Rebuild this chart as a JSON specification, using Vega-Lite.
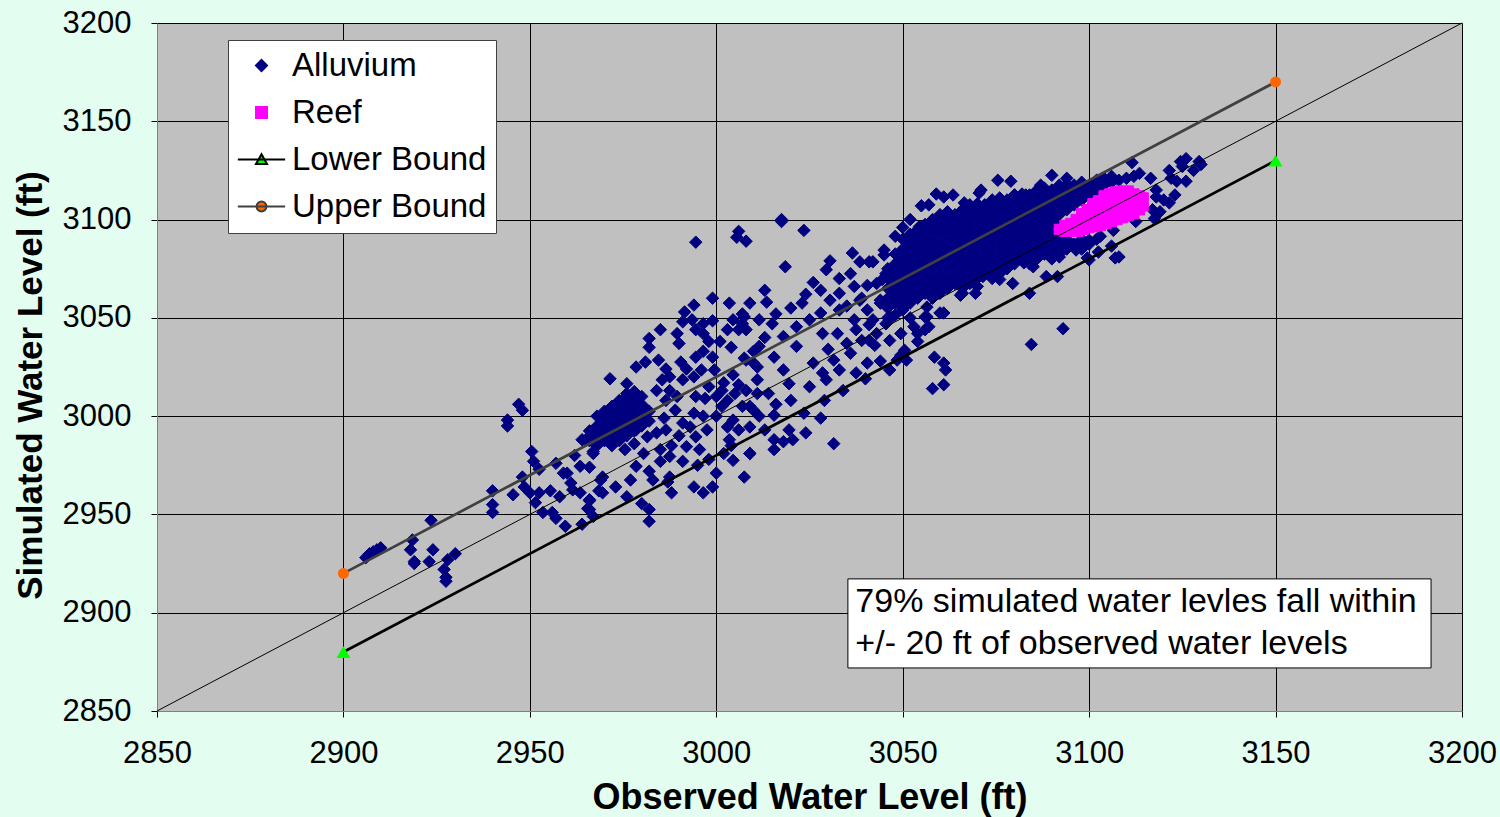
{
  "$schema": "https://vega.github.io/schema/vega-lite/v6.json",
  "width": 1305,
  "height": 688,
  "autosize": {"type": "none"},
  "padding": {"left": 157, "top": 23, "right": 38, "bottom": 106},
  "background": "#E3FDF0",
  "config": {
    "font": "Liberation Sans",
    "view": {"fill": "#C0C0C0", "stroke": "#808080", "strokeWidth": 1}
  },
  "datasets": {
    "alluvium": [
      {"x":2907,"y":2930,"s":"A"},{"x":2908,"y":2931,"s":"A"},{"x":2906,"y":2928,"s":"A"},{"x":2909,"y":2932,"s":"A"},{"x":2910,"y":2933,"s":"A"},
      {"x":2918.5,"y":2937,"s":"A"},{"x":2918,"y":2932,"s":"A"},{"x":2919,"y":2926,"s":"A"},{"x":2919,"y":2925,"s":"A"},{"x":2923,"y":2926,"s":"A"},{"x":2924,"y":2932,"s":"A"},{"x":2923.5,"y":2947,"s":"A"},{"x":2928,"y":2927,"s":"A"},{"x":2930,"y":2930,"s":"A"},{"x":2927,"y":2922,"s":"A"},{"x":2927.5,"y":2918,"s":"A"},{"x":2927.5,"y":2916,"s":"A"},
      {"x":2940,"y":2962,"s":"A"},{"x":2940,"y":2955,"s":"A"},{"x":2940,"y":2951,"s":"A"},
      {"x":2947,"y":3006,"s":"A"},{"x":2948,"y":3003,"s":"A"},{"x":2944,"y":2998,"s":"A"},{"x":2944,"y":2995,"s":"A"},
      {"x":2950.5,"y":2982,"s":"A"},{"x":2951,"y":2977,"s":"A"},{"x":2952.5,"y":2973,"s":"A"},{"x":2948,"y":2969,"s":"A"},{"x":2948.5,"y":2964,"s":"A"},{"x":2945.5,"y":2960,"s":"A"},{"x":2950,"y":2961,"s":"A"},{"x":2951.5,"y":2956,"s":"A"},{"x":2952.5,"y":2961,"s":"A"},{"x":2953.5,"y":2951,"s":"A"},{"x":2956,"y":2951,"s":"A"},{"x":2957,"y":2948,"s":"A"},{"x":2959.5,"y":2944,"s":"A"},{"x":2964,"y":2945,"s":"A"},
      {"x":2957,"y":2976,"s":"A"},{"x":2959,"y":2971,"s":"A"},{"x":2962,"y":2980,"s":"A"},{"x":2964,"y":2988,"s":"A"},{"x":2967,"y":2982,"s":"A"},{"x":2966,"y":2974,"s":"A"},{"x":2961,"y":2966,"s":"A"},{"x":2955.5,"y":2962,"s":"A"},{"x":2958,"y":2959,"s":"A"},{"x":2963.5,"y":2961,"s":"A"},{"x":2966,"y":2957,"s":"A"},{"x":2965.5,"y":2953,"s":"A"},{"x":2967,"y":2949,"s":"A"},{"x":2968.5,"y":2962,"s":"A"},{"x":2969.5,"y":2969,"s":"A"},
      {"x":2966,"y":2987.5,"s":"A"},{"x":2966,"y":2992.5,"s":"A"},
      {"x":2968,"y":2985,"s":"A"},{"x":2968,"y":2990,"s":"A"},{"x":2968,"y":2995,"s":"A"},{"x":2968,"y":3000,"s":"A"},
      {"x":2970,"y":2987.5,"s":"A"},{"x":2970,"y":2992.5,"s":"A"},{"x":2970,"y":2997.5,"s":"A"},{"x":2970,"y":3002.5,"s":"A"},
      {"x":2972,"y":2985,"s":"A"},{"x":2972,"y":2990,"s":"A"},{"x":2972,"y":2995,"s":"A"},{"x":2972,"y":3000,"s":"A"},{"x":2972,"y":3005,"s":"A"},
      {"x":2974,"y":2987.5,"s":"A"},{"x":2974,"y":2992.5,"s":"A"},{"x":2974,"y":2997.5,"s":"A"},{"x":2974,"y":3002.5,"s":"A"},{"x":2974,"y":3007.5,"s":"A"},
      {"x":2976,"y":2990,"s":"A"},{"x":2976,"y":2995,"s":"A"},{"x":2976,"y":3000,"s":"A"},{"x":2976,"y":3005,"s":"A"},{"x":2976,"y":3010,"s":"A"},
      {"x":2978,"y":2992.5,"s":"A"},{"x":2978,"y":2997.5,"s":"A"},{"x":2978,"y":3002.5,"s":"A"},{"x":2978,"y":3007.5,"s":"A"},{"x":2978,"y":3012.5,"s":"A"},
      {"x":2980,"y":2995,"s":"A"},{"x":2980,"y":3000,"s":"A"},{"x":2980,"y":3005,"s":"A"},{"x":2980,"y":3010,"s":"A"},
      {"x":2982,"y":2997.5,"s":"A"},{"x":2982,"y":3002.5,"s":"A"},
      {"x":2999,"y":3060,"s":"A"},{"x":2994,"y":3056.5,"s":"A"},{"x":3003.5,"y":3057.5,"s":"A"},{"x":3009,"y":3057.5,"s":"A"},{"x":2991.5,"y":3053,"s":"A"},{"x":2991,"y":3048,"s":"A"},{"x":2993.5,"y":3049,"s":"A"},{"x":2996.5,"y":3047,"s":"A"},{"x":2999,"y":3048.5,"s":"A"},{"x":3003,"y":3044,"s":"A"},{"x":3004.5,"y":3049,"s":"A"},{"x":3007,"y":3052,"s":"A"},{"x":3007,"y":3047,"s":"A"},{"x":3006,"y":3044,"s":"A"},
      {"x":2985,"y":3044,"s":"A"},{"x":2982,"y":3039.5,"s":"A"},{"x":2982,"y":3035,"s":"A"},{"x":2989.5,"y":3042,"s":"A"},{"x":2990,"y":3037,"s":"A"},{"x":2994.5,"y":3044,"s":"A"},{"x":2996.5,"y":3042,"s":"A"},{"x":2998,"y":3038,"s":"A"},
      {"x":2971.5,"y":3019,"s":"A"},{"x":2976,"y":3016.5,"s":"A"},{"x":2978.5,"y":3025,"s":"A"},{"x":2981,"y":3027.5,"s":"A"},{"x":2984.5,"y":3028.5,"s":"A"},{"x":2986.5,"y":3024,"s":"A"},{"x":2990.5,"y":3027.5,"s":"A"},{"x":2992,"y":3024,"s":"A"},{"x":2994.5,"y":3030,"s":"A"},{"x":2996.5,"y":3033,"s":"A"},{"x":2999,"y":3030,"s":"A"},{"x":2999.5,"y":3023.5,"s":"A"},{"x":2996,"y":3023.5,"s":"A"},{"x":2994,"y":3020,"s":"A"},{"x":2991,"y":3018.5,"s":"A"},{"x":2987.5,"y":3020,"s":"A"},{"x":2985.5,"y":3018.5,"s":"A"},{"x":2987.5,"y":3013,"s":"A"},{"x":2984,"y":3013,"s":"A"},{"x":2989.5,"y":3010,"s":"A"},{"x":2986.5,"y":3008,"s":"A"},{"x":2994.5,"y":3010,"s":"A"},{"x":2997,"y":3009,"s":"A"},{"x":3000,"y":3010,"s":"A"},{"x":3001.5,"y":3013,"s":"A"},{"x":3003,"y":3008,"s":"A"},{"x":3005,"y":3011.5,"s":"A"},{"x":3004.5,"y":3021,"s":"A"},{"x":3007.5,"y":3029.5,"s":"A"},{"x":3010,"y":3027,"s":"A"},{"x":3010,"y":3033,"s":"A"},{"x":3011,"y":3018.5,"s":"A"},{"x":3008,"y":3013,"s":"A"},
      {"x":2972.5,"y":3005,"s":"A"},{"x":2974,"y":3008,"s":"A"},{"x":2976,"y":3011.5,"s":"A"},{"x":2978.5,"y":3010,"s":"A"},{"x":2980.5,"y":3005,"s":"A"},{"x":2981.5,"y":2998,"s":"A"},{"x":2976,"y":2996.5,"s":"A"},{"x":2978.5,"y":2993,"s":"A"},{"x":2971.5,"y":2998,"s":"A"},{"x":2969,"y":2994.5,"s":"A"},{"x":2967,"y":2991,"s":"A"},{"x":2965,"y":2988,"s":"A"},{"x":2974,"y":2989.5,"s":"A"},{"x":2978,"y":2986,"s":"A"},{"x":2975.5,"y":2983,"s":"A"},{"x":2981.5,"y":2989.5,"s":"A"},{"x":2984,"y":2991.5,"s":"A"},{"x":2986.5,"y":2993,"s":"A"},{"x":2985,"y":2983,"s":"A"},{"x":2980.5,"y":2981,"s":"A"},{"x":2987.5,"y":2979.5,"s":"A"},{"x":2985,"y":2977,"s":"A"},{"x":2991,"y":2977,"s":"A"},{"x":2978.5,"y":2974.5,"s":"A"},{"x":2982,"y":2972,"s":"A"},{"x":2987.5,"y":2969,"s":"A"},{"x":2983,"y":2967.5,"s":"A"},{"x":2977,"y":2967.5,"s":"A"},{"x":2973,"y":2964,"s":"A"},{"x":2969,"y":2967.5,"s":"A"},{"x":2967,"y":2981,"s":"A"},{"x":2963.5,"y":2974.5,"s":"A"},{"x":2960,"y":2971,"s":"A"},{"x":2961.5,"y":2962.5,"s":"A"},{"x":2966,"y":2957.5,"s":"A"},{"x":2966,"y":2952.5,"s":"A"},{"x":2969.5,"y":2961,"s":"A"},{"x":2976,"y":2959,"s":"A"},{"x":2980,"y":2955.5,"s":"A"},{"x":2982,"y":2952.5,"s":"A"},{"x":2982,"y":2946.5,"s":"A"},{"x":2987,"y":2966.5,"s":"A"},{"x":2988,"y":2961,"s":"A"},{"x":2994,"y":2964,"s":"A"},{"x":2996.5,"y":2961,"s":"A"},{"x":2999,"y":2964,"s":"A"},{"x":3000,"y":2971,"s":"A"},{"x":2995,"y":2975,"s":"A"},{"x":2995.5,"y":2983,"s":"A"},{"x":2992,"y":2984.5,"s":"A"},{"x":2994.5,"y":2989.5,"s":"A"},{"x":2997.5,"y":2993,"s":"A"},{"x":2993,"y":2994.5,"s":"A"},{"x":2991,"y":2996.5,"s":"A"},{"x":2994,"y":3001.5,"s":"A"},{"x":2996.5,"y":3000,"s":"A"},{"x":3000,"y":3000,"s":"A"},{"x":3003,"y":2994.5,"s":"A"},{"x":3004.5,"y":2998,"s":"A"},{"x":3006,"y":2993,"s":"A"},{"x":3009,"y":2994.5,"s":"A"},{"x":3003.5,"y":2988,"s":"A"},{"x":3002,"y":2981,"s":"A"},{"x":3004.5,"y":2977.5,"s":"A"},{"x":3009,"y":2981,"s":"A"},{"x":3007.5,"y":2969,"s":"A"},{"x":3001.5,"y":3005,"s":"A"},{"x":3007,"y":3005,"s":"A"},{"x":3010,"y":3003,"s":"A"},
      {"x":3017.5,"y":3099,"s":"A"},{"x":3023.5,"y":3094.5,"s":"A"},{"x":3008,"y":3089,"s":"A"},{"x":3018.5,"y":3076,"s":"A"},{"x":3029.5,"y":3074.5,"s":"A"},{"x":3030.5,"y":3079,"s":"A"},{"x":3036.5,"y":3083,"s":"A"},{"x":3048,"y":3091.5,"s":"A"},{"x":3038.5,"y":3078.5,"s":"A"},{"x":3041,"y":3078.5,"s":"A"},{"x":3045,"y":3082,"s":"A"},{"x":3045.5,"y":3072.5,"s":"A"},{"x":3043,"y":3067.5,"s":"A"},{"x":3036,"y":3072.5,"s":"A"},{"x":3037,"y":3066,"s":"A"},{"x":3033,"y":3062.5,"s":"A"},{"x":3028,"y":3064,"s":"A"},{"x":3030.5,"y":3059,"s":"A"},{"x":3013,"y":3064,"s":"A"},{"x":3013.5,"y":3058,"s":"A"},{"x":3020,"y":3055,"s":"A"},{"x":3023,"y":3057.5,"s":"A"},{"x":3028,"y":3052.5,"s":"A"},{"x":3033,"y":3054,"s":"A"},{"x":3037,"y":3049,"s":"A"},{"x":3040.5,"y":3054,"s":"A"},{"x":3044,"y":3057.5,"s":"A"},{"x":3047.5,"y":3061,"s":"A"},{"x":3049.5,"y":3066,"s":"A"},{"x":3051,"y":3071,"s":"A"},{"x":3056.5,"y":3050.5,"s":"A"},{"x":3053,"y":3045.5,"s":"A"},{"x":3049.5,"y":3042,"s":"A"},{"x":3045.5,"y":3047,"s":"A"},{"x":3042,"y":3049,"s":"A"},{"x":3041,"y":3038.5,"s":"A"},{"x":3037.5,"y":3044,"s":"A"},{"x":3035,"y":3037,"s":"A"},{"x":3032.5,"y":3042,"s":"A"},{"x":3028.5,"y":3042,"s":"A"},{"x":3025,"y":3049,"s":"A"},{"x":3021.5,"y":3045.5,"s":"A"},{"x":3018,"y":3040.5,"s":"A"},{"x":3015,"y":3047,"s":"A"},{"x":3011.5,"y":3049,"s":"A"},{"x":3007.5,"y":3050.5,"s":"A"},{"x":3008,"y":3044,"s":"A"},{"x":3011.5,"y":3035.5,"s":"A"},{"x":3008,"y":3028.5,"s":"A"},{"x":3011,"y":3025,"s":"A"},{"x":3015.5,"y":3030,"s":"A"},{"x":3021.5,"y":3035.5,"s":"A"},{"x":3018,"y":3023.5,"s":"A"},{"x":3019.5,"y":3016.5,"s":"A"},{"x":3026,"y":3027,"s":"A"},{"x":3028.5,"y":3022,"s":"A"},{"x":3031.5,"y":3028.5,"s":"A"},{"x":3033,"y":3023.5,"s":"A"},{"x":3029.5,"y":3018.5,"s":"A"},{"x":3037.5,"y":3022,"s":"A"},{"x":3040.5,"y":3027,"s":"A"},{"x":3036,"y":3032,"s":"A"},{"x":3046.5,"y":3023.5,"s":"A"},{"x":3048.5,"y":3028.5,"s":"A"},{"x":3050.5,"y":3033.5,"s":"A"},{"x":3058,"y":3014,"s":"A"},{"x":3014,"y":3011.5,"s":"A"},{"x":3011,"y":3011.5,"s":"A"},{"x":3009,"y":3005,"s":"A"},{"x":3011.5,"y":3000,"s":"A"},{"x":3015.5,"y":3000.5,"s":"A"},{"x":3020,"y":3008,"s":"A"},{"x":3023.5,"y":3001.5,"s":"A"},{"x":3028,"y":2999,"s":"A"},{"x":3029,"y":3008,"s":"A"},{"x":3019.5,"y":2993,"s":"A"},{"x":3024,"y":2991.5,"s":"A"},{"x":3020.5,"y":2988,"s":"A"},{"x":3015.5,"y":2988,"s":"A"},{"x":3018,"y":2987,"s":"A"},{"x":3015.5,"y":2983,"s":"A"},{"x":3009,"y":2981,"s":"A"},{"x":3031.5,"y":2986,"s":"A"},
      {"x":2994.5,"y":3088.5,"s":"A"},{"x":3006,"y":3094,"s":"A"},{"x":3005.5,"y":3091,"s":"A"},{"x":3017.5,"y":3100,"s":"A"},
      {"x":3001,"y":3038,"s":"A"},{"x":3004,"y":3035,"s":"A"},{"x":3013,"y":3040,"s":"A"},{"x":3016,"y":3052,"s":"A"},{"x":3024,"y":3062,"s":"A"},{"x":3026,"y":3068,"s":"A"},{"x":3033,"y":3070,"s":"A"},{"x":3039,"y":3060,"s":"A"},{"x":3035,"y":3056,"s":"A"},{"x":3002,"y":3017,"s":"A"},{"x":3006,"y":3016,"s":"A"},{"x":2998,"y":3015,"s":"A"},{"x":2989,"y":3003,"s":"A"},{"x":2986,"y":2999,"s":"A"},{"x":2990,"y":2990,"s":"A"},{"x":2988,"y":2985,"s":"A"},{"x":2998,"y":2978,"s":"A"},{"x":3004,"y":2985,"s":"A"},{"x":3013,"y":2993,"s":"A"},{"x":3016,"y":3006,"s":"A"},{"x":3025,"y":3015,"s":"A"},{"x":3030,"y":3034,"s":"A"},{"x":3043,"y":3042,"s":"A"},{"x":3047,"y":3050,"s":"A"},{"x":3052,"y":3050,"s":"A"},{"x":3054,"y":3038,"s":"A"},{"x":3044,"y":3028,"s":"A"},{"x":3040,"y":3019,"s":"A"},{"x":3034,"y":3013,"s":"A"},
      {"x":3090,"y":3122.5,"s":"A"},{"x":3094,"y":3121,"s":"A"},{"x":3075.5,"y":3120,"s":"A"},{"x":3079,"y":3119.5,"s":"A"},{"x":3071,"y":3115,"s":"A"},{"x":3070.5,"y":3113.5,"s":"A"},{"x":3080,"y":3112.5,"s":"A"},{"x":3083,"y":3112.5,"s":"A"},{"x":3087,"y":3117.5,"s":"A"},{"x":3061,"y":3111.5,"s":"A"},{"x":3063.5,"y":3112.5,"s":"A"},{"x":3066.5,"y":3108.5,"s":"A"},{"x":3057,"y":3107.5,"s":"A"},{"x":3052,"y":3100,"s":"A"},{"x":3054.5,"y":3096.5,"s":"A"},{"x":3059,"y":3100,"s":"A"},{"x":3062.5,"y":3103,"s":"A"},{"x":3053,"y":3086,"s":"A"},{"x":3051,"y":3079.5,"s":"A"},{"x":3050,"y":3069.5,"s":"A"},{"x":3051,"y":3061,"s":"A"},{"x":3050,"y":3054,"s":"A"},{"x":3056,"y":3050.5,"s":"A"},{"x":3061,"y":3052.5,"s":"A"},{"x":3057,"y":3045.5,"s":"A"},{"x":3054,"y":3042,"s":"A"},{"x":3051,"y":3028.5,"s":"A"},{"x":3061,"y":3027,"s":"A"},{"x":3061.5,"y":3023.5,"s":"A"},{"x":3061,"y":3016,"s":"A"},{"x":3084.5,"y":3036.5,"s":"A"},{"x":3093,"y":3044.5,"s":"A"},{"x":3066,"y":3062.5,"s":"A"},{"x":3069.5,"y":3062.5,"s":"A"},{"x":3065.5,"y":3067.5,"s":"A"},{"x":3071.5,"y":3071,"s":"A"},{"x":3076,"y":3069.5,"s":"A"},{"x":3079.5,"y":3067.5,"s":"A"},{"x":3084,"y":3062.5,"s":"A"},{"x":3085,"y":3076,"s":"A"},{"x":3082.5,"y":3078,"s":"A"},{"x":3088.5,"y":3071,"s":"A"},{"x":3091.5,"y":3071,"s":"A"},{"x":3100,"y":3079.5,"s":"A"},{"x":3096.5,"y":3084.5,"s":"A"},{"x":3092,"y":3081,"s":"A"},{"x":3058,"y":3061,"s":"A"},{"x":3060,"y":3052.5,"s":"A"},{"x":3056.5,"y":3055.5,"s":"A"},{"x":3065.5,"y":3061.5,"s":"A"},{"x":3070,"y":3066,"s":"A"},
      {"x":3111.5,"y":3129,"s":"A"},{"x":3113.5,"y":3123.5,"s":"A"},{"x":3116.5,"y":3121,"s":"A"},{"x":3118,"y":3115,"s":"A"},{"x":3118,"y":3111.5,"s":"A"},{"x":3121.5,"y":3125,"s":"A"},{"x":3122,"y":3121,"s":"A"},{"x":3124.5,"y":3129.5,"s":"A"},{"x":3125,"y":3127,"s":"A"},{"x":3126,"y":3119.5,"s":"A"},{"x":3123.5,"y":3119.5,"s":"A"},{"x":3129.5,"y":3129.5,"s":"A"},{"x":3121.5,"y":3108.5,"s":"A"},{"x":3119,"y":3104,"s":"A"},{"x":3117.5,"y":3100.5,"s":"A"},{"x":3112.5,"y":3099,"s":"A"},{"x":3106.5,"y":3094.5,"s":"A"},{"x":3106,"y":3086.5,"s":"A"},{"x":3108,"y":3081,"s":"A"},{"x":3102.5,"y":3083.5,"s":"A"},{"x":3099.5,"y":3080.5,"s":"A"},{"x":3100,"y":3089.5,"s":"A"},{"x":3103,"y":3091.5,"s":"A"},
      {"x":3042,"y":3078.5,"s":"A"},{"x":3045,"y":3084.5,"s":"A"},{"x":3046.5,"y":3074.5,"s":"A"},{"x":3049,"y":3064,"s":"A"},{"x":3044,"y":3059,"s":"A"},{"x":3048,"y":3051.5,"s":"A"},{"x":3041,"y":3046.5,"s":"A"},{"x":3039,"y":3038.5,"s":"A"},{"x":3042.5,"y":3036,"s":"A"},{"x":3046.5,"y":3038.5,"s":"A"},{"x":3049.5,"y":3031,"s":"A"},{"x":3044.5,"y":3069.5,"s":"A"},{"x":3038.5,"y":3059,"s":"A"},{"x":3040.5,"y":3066.5,"s":"A"},{"x":3056,"y":3044,"s":"A"},{"x":3058.5,"y":3030,"s":"A"},{"x":3055,"y":3107,"s":"A"},{"x":3059,"y":3113,"s":"A"},{"x":3050,"y":3096,"s":"A"},
      {"x":3126,"y":3131,"s":"A"},{"x":3130,"y":3128,"s":"A"},{"x":3128,"y":3125,"s":"A"},{"x":3117,"y":3105,"s":"A"},{"x":3123,"y":3112.5,"s":"A"},{"x":3120,"y":3110,"s":"A"},{"x":3107,"y":3080.5,"s":"A"},
      {"x":3046,"y":3050,"s":"A"},{"x":3046,"y":3055,"s":"A"},{"x":3046,"y":3060,"s":"A"},{"x":3046,"y":3065,"s":"A"},{"x":3046,"y":3070,"s":"A"},{"x":3046,"y":3075,"s":"A"},
      {"x":3048,"y":3057.5,"s":"A"},{"x":3048,"y":3062.5,"s":"A"},{"x":3048,"y":3067.5,"s":"A"},{"x":3048,"y":3072.5,"s":"A"},{"x":3048,"y":3077.5,"s":"A"},{"x":3048,"y":3082.5,"s":"A"},
      {"x":3050,"y":3055,"s":"A"},{"x":3050,"y":3060,"s":"A"},{"x":3050,"y":3065,"s":"A"},{"x":3050,"y":3070,"s":"A"},{"x":3050,"y":3075,"s":"A"},{"x":3050,"y":3080,"s":"A"},{"x":3050,"y":3085,"s":"A"},{"x":3050,"y":3090,"s":"A"},
      {"x":3052,"y":3057.5,"s":"A"},{"x":3052,"y":3062.5,"s":"A"},{"x":3052,"y":3067.5,"s":"A"},{"x":3052,"y":3072.5,"s":"A"},{"x":3052,"y":3077.5,"s":"A"},{"x":3052,"y":3082.5,"s":"A"},{"x":3052,"y":3087.5,"s":"A"},{"x":3052,"y":3092.5,"s":"A"},
      {"x":3054,"y":3060,"s":"A"},{"x":3054,"y":3065,"s":"A"},{"x":3054,"y":3070,"s":"A"},{"x":3054,"y":3075,"s":"A"},{"x":3054,"y":3080,"s":"A"},{"x":3054,"y":3085,"s":"A"},{"x":3054,"y":3090,"s":"A"},{"x":3054,"y":3095,"s":"A"},
      {"x":3056,"y":3062.5,"s":"A"},{"x":3056,"y":3067.5,"s":"A"},{"x":3056,"y":3072.5,"s":"A"},{"x":3056,"y":3077.5,"s":"A"},{"x":3056,"y":3082.5,"s":"A"},{"x":3056,"y":3087.5,"s":"A"},{"x":3056,"y":3092.5,"s":"A"},{"x":3056,"y":3097.5,"s":"A"},
      {"x":3058,"y":3060,"s":"A"},{"x":3058,"y":3065,"s":"A"},{"x":3058,"y":3070,"s":"A"},{"x":3058,"y":3075,"s":"A"},{"x":3058,"y":3080,"s":"A"},{"x":3058,"y":3085,"s":"A"},{"x":3058,"y":3090,"s":"A"},{"x":3058,"y":3095,"s":"A"},{"x":3058,"y":3100,"s":"A"},
      {"x":3060,"y":3062.5,"s":"A"},{"x":3060,"y":3067.5,"s":"A"},{"x":3060,"y":3072.5,"s":"A"},{"x":3060,"y":3077.5,"s":"A"},{"x":3060,"y":3082.5,"s":"A"},{"x":3060,"y":3087.5,"s":"A"},{"x":3060,"y":3092.5,"s":"A"},{"x":3060,"y":3097.5,"s":"A"},{"x":3060,"y":3102.5,"s":"A"},
      {"x":3062,"y":3065,"s":"A"},{"x":3062,"y":3070,"s":"A"},{"x":3062,"y":3075,"s":"A"},{"x":3062,"y":3080,"s":"A"},{"x":3062,"y":3085,"s":"A"},{"x":3062,"y":3090,"s":"A"},{"x":3062,"y":3095,"s":"A"},{"x":3062,"y":3100,"s":"A"},{"x":3062,"y":3104,"s":"A"},
      {"x":3064,"y":3067.5,"s":"A"},{"x":3064,"y":3072.5,"s":"A"},{"x":3064,"y":3077.5,"s":"A"},{"x":3064,"y":3082.5,"s":"A"},{"x":3064,"y":3087.5,"s":"A"},{"x":3064,"y":3092.5,"s":"A"},{"x":3064,"y":3097.5,"s":"A"},{"x":3064,"y":3102.5,"s":"A"},
      {"x":3066,"y":3065,"s":"A"},{"x":3066,"y":3070,"s":"A"},{"x":3066,"y":3075,"s":"A"},{"x":3066,"y":3080,"s":"A"},{"x":3066,"y":3085,"s":"A"},{"x":3066,"y":3090,"s":"A"},{"x":3066,"y":3095,"s":"A"},{"x":3066,"y":3100,"s":"A"},{"x":3066,"y":3105,"s":"A"},
      {"x":3068,"y":3067.5,"s":"A"},{"x":3068,"y":3072.5,"s":"A"},{"x":3068,"y":3077.5,"s":"A"},{"x":3068,"y":3082.5,"s":"A"},{"x":3068,"y":3087.5,"s":"A"},{"x":3068,"y":3092.5,"s":"A"},{"x":3068,"y":3097.5,"s":"A"},{"x":3068,"y":3102.5,"s":"A"},{"x":3068,"y":3107.5,"s":"A"},
      {"x":3070,"y":3070,"s":"A"},{"x":3070,"y":3075,"s":"A"},{"x":3070,"y":3080,"s":"A"},{"x":3070,"y":3085,"s":"A"},{"x":3070,"y":3090,"s":"A"},{"x":3070,"y":3095,"s":"A"},{"x":3070,"y":3100,"s":"A"},{"x":3070,"y":3105,"s":"A"},{"x":3070,"y":3108,"s":"A"},
      {"x":3072,"y":3072.5,"s":"A"},{"x":3072,"y":3077.5,"s":"A"},{"x":3072,"y":3082.5,"s":"A"},{"x":3072,"y":3087.5,"s":"A"},{"x":3072,"y":3092.5,"s":"A"},{"x":3072,"y":3097.5,"s":"A"},{"x":3072,"y":3102.5,"s":"A"},{"x":3072,"y":3107.5,"s":"A"},
      {"x":3074,"y":3070,"s":"A"},{"x":3074,"y":3075,"s":"A"},{"x":3074,"y":3080,"s":"A"},{"x":3074,"y":3085,"s":"A"},{"x":3074,"y":3090,"s":"A"},{"x":3074,"y":3095,"s":"A"},{"x":3074,"y":3100,"s":"A"},{"x":3074,"y":3105,"s":"A"},{"x":3074,"y":3110,"s":"A"},
      {"x":3076,"y":3072.5,"s":"A"},{"x":3076,"y":3077.5,"s":"A"},{"x":3076,"y":3082.5,"s":"A"},{"x":3076,"y":3087.5,"s":"A"},{"x":3076,"y":3092.5,"s":"A"},{"x":3076,"y":3097.5,"s":"A"},{"x":3076,"y":3102.5,"s":"A"},{"x":3076,"y":3107.5,"s":"A"},{"x":3076,"y":3111,"s":"A"},
      {"x":3078,"y":3075,"s":"A"},{"x":3078,"y":3080,"s":"A"},{"x":3078,"y":3085,"s":"A"},{"x":3078,"y":3090,"s":"A"},{"x":3078,"y":3095,"s":"A"},{"x":3078,"y":3100,"s":"A"},{"x":3078,"y":3105,"s":"A"},{"x":3078,"y":3110,"s":"A"},
      {"x":3080,"y":3077.5,"s":"A"},{"x":3080,"y":3082.5,"s":"A"},{"x":3080,"y":3087.5,"s":"A"},{"x":3080,"y":3092.5,"s":"A"},{"x":3080,"y":3097.5,"s":"A"},{"x":3080,"y":3102.5,"s":"A"},{"x":3080,"y":3107.5,"s":"A"},{"x":3080,"y":3112.5,"s":"A"},
      {"x":3082,"y":3080,"s":"A"},{"x":3082,"y":3085,"s":"A"},{"x":3082,"y":3090,"s":"A"},{"x":3082,"y":3095,"s":"A"},{"x":3082,"y":3100,"s":"A"},{"x":3082,"y":3105,"s":"A"},{"x":3082,"y":3110,"s":"A"},{"x":3082,"y":3113,"s":"A"},
      {"x":3084,"y":3077.5,"s":"A"},{"x":3084,"y":3082.5,"s":"A"},{"x":3084,"y":3087.5,"s":"A"},{"x":3084,"y":3092.5,"s":"A"},{"x":3084,"y":3097.5,"s":"A"},{"x":3084,"y":3102.5,"s":"A"},{"x":3084,"y":3107.5,"s":"A"},{"x":3084,"y":3112.5,"s":"A"},
      {"x":3086,"y":3080,"s":"A"},{"x":3086,"y":3085,"s":"A"},{"x":3086,"y":3090,"s":"A"},{"x":3086,"y":3095,"s":"A"},{"x":3086,"y":3100,"s":"A"},{"x":3086,"y":3105,"s":"A"},{"x":3086,"y":3110,"s":"A"},{"x":3086,"y":3115,"s":"A"},
      {"x":3088,"y":3082.5,"s":"A"},{"x":3088,"y":3087.5,"s":"A"},{"x":3088,"y":3092.5,"s":"A"},{"x":3088,"y":3097.5,"s":"A"},{"x":3088,"y":3102.5,"s":"A"},{"x":3088,"y":3107.5,"s":"A"},{"x":3088,"y":3112.5,"s":"A"},{"x":3088,"y":3116,"s":"A"},
      {"x":3090,"y":3080,"s":"A"},{"x":3090,"y":3085,"s":"A"},{"x":3090,"y":3090,"s":"A"},{"x":3090,"y":3095,"s":"A"},{"x":3090,"y":3100,"s":"A"},{"x":3090,"y":3105,"s":"A"},{"x":3090,"y":3110,"s":"A"},{"x":3090,"y":3115,"s":"A"},
      {"x":3092,"y":3082.5,"s":"A"},{"x":3092,"y":3087.5,"s":"A"},{"x":3092,"y":3092.5,"s":"A"},{"x":3092,"y":3097.5,"s":"A"},{"x":3092,"y":3102.5,"s":"A"},{"x":3092,"y":3107.5,"s":"A"},{"x":3092,"y":3112.5,"s":"A"},{"x":3092,"y":3117.5,"s":"A"},
      {"x":3094,"y":3085,"s":"A"},{"x":3094,"y":3090,"s":"A"},{"x":3094,"y":3105,"s":"A"},{"x":3094,"y":3110,"s":"A"},{"x":3094,"y":3115,"s":"A"},{"x":3094,"y":3118,"s":"A"},
      {"x":3096,"y":3087.5,"s":"A"},{"x":3096,"y":3107.5,"s":"A"},{"x":3096,"y":3112.5,"s":"A"},{"x":3096,"y":3117.5,"s":"A"},
      {"x":3098,"y":3085,"s":"A"},{"x":3098,"y":3090,"s":"A"},{"x":3098,"y":3110,"s":"A"},{"x":3098,"y":3115,"s":"A"},{"x":3098,"y":3119,"s":"A"},
      {"x":3100,"y":3087.5,"s":"A"},{"x":3100,"y":3112.5,"s":"A"},{"x":3100,"y":3117.5,"s":"A"},
      {"x":3102,"y":3090,"s":"A"},{"x":3102,"y":3115,"s":"A"},{"x":3102,"y":3120,"s":"A"},
      {"x":3104,"y":3117.5,"s":"A"},{"x":3104,"y":3121,"s":"A"},
      {"x":3106,"y":3119,"s":"A"},{"x":3106,"y":3122,"s":"A"},
      {"x":3108,"y":3120,"s":"A"},{"x":3110,"y":3121,"s":"A"},{"x":3112,"y":3122,"s":"A"}
    ],
    "reef": [
      {"x":3091.5,"y":3094,"s":"R"},{"x":3091.5,"y":3096,"s":"R"},
      {"x":3093,"y":3093,"s":"R"},{"x":3093,"y":3096,"s":"R"},{"x":3093,"y":3098,"s":"R"},
      {"x":3094.5,"y":3093,"s":"R"},{"x":3094.5,"y":3096,"s":"R"},{"x":3094.5,"y":3099,"s":"R"},
      {"x":3096,"y":3093,"s":"R"},{"x":3096,"y":3096,"s":"R"},{"x":3096,"y":3099,"s":"R"},{"x":3096,"y":3101,"s":"R"},
      {"x":3097.5,"y":3093,"s":"R"},{"x":3097.5,"y":3096,"s":"R"},{"x":3097.5,"y":3099,"s":"R"},{"x":3097.5,"y":3102,"s":"R"},{"x":3097.5,"y":3104,"s":"R"},
      {"x":3099,"y":3094,"s":"R"},{"x":3099,"y":3097,"s":"R"},{"x":3099,"y":3100,"s":"R"},{"x":3099,"y":3103,"s":"R"},{"x":3099,"y":3106,"s":"R"},
      {"x":3100.5,"y":3095,"s":"R"},{"x":3100.5,"y":3098,"s":"R"},{"x":3100.5,"y":3101,"s":"R"},{"x":3100.5,"y":3104,"s":"R"},{"x":3100.5,"y":3107,"s":"R"},{"x":3100.5,"y":3109,"s":"R"},
      {"x":3102,"y":3095.5,"s":"R"},{"x":3102,"y":3098.5,"s":"R"},{"x":3102,"y":3101.5,"s":"R"},{"x":3102,"y":3104.5,"s":"R"},{"x":3102,"y":3107.5,"s":"R"},{"x":3102,"y":3110.5,"s":"R"},
      {"x":3103.5,"y":3096,"s":"R"},{"x":3103.5,"y":3099,"s":"R"},{"x":3103.5,"y":3102,"s":"R"},{"x":3103.5,"y":3105,"s":"R"},{"x":3103.5,"y":3108,"s":"R"},{"x":3103.5,"y":3111,"s":"R"},{"x":3103.5,"y":3113,"s":"R"},
      {"x":3105,"y":3097,"s":"R"},{"x":3105,"y":3100,"s":"R"},{"x":3105,"y":3103,"s":"R"},{"x":3105,"y":3106,"s":"R"},{"x":3105,"y":3109,"s":"R"},{"x":3105,"y":3112,"s":"R"},{"x":3105,"y":3114,"s":"R"},
      {"x":3106.5,"y":3098,"s":"R"},{"x":3106.5,"y":3101,"s":"R"},{"x":3106.5,"y":3104,"s":"R"},{"x":3106.5,"y":3107,"s":"R"},{"x":3106.5,"y":3110,"s":"R"},{"x":3106.5,"y":3113,"s":"R"},{"x":3106.5,"y":3115,"s":"R"},
      {"x":3108,"y":3099,"s":"R"},{"x":3108,"y":3102,"s":"R"},{"x":3108,"y":3105,"s":"R"},{"x":3108,"y":3108,"s":"R"},{"x":3108,"y":3111,"s":"R"},{"x":3108,"y":3114,"s":"R"},{"x":3108,"y":3115.5,"s":"R"},
      {"x":3109.5,"y":3100,"s":"R"},{"x":3109.5,"y":3103,"s":"R"},{"x":3109.5,"y":3106,"s":"R"},{"x":3109.5,"y":3109,"s":"R"},{"x":3109.5,"y":3112,"s":"R"},{"x":3109.5,"y":3115.5,"s":"R"},
      {"x":3111,"y":3101,"s":"R"},{"x":3111,"y":3104,"s":"R"},{"x":3111,"y":3107,"s":"R"},{"x":3111,"y":3110,"s":"R"},{"x":3111,"y":3113,"s":"R"},{"x":3111,"y":3115.5,"s":"R"},
      {"x":3112.5,"y":3102,"s":"R"},{"x":3112.5,"y":3105,"s":"R"},{"x":3112.5,"y":3108,"s":"R"},{"x":3112.5,"y":3111,"s":"R"},{"x":3112.5,"y":3114,"s":"R"},
      {"x":3114,"y":3104,"s":"R"},{"x":3114,"y":3107,"s":"R"},{"x":3114,"y":3110,"s":"R"},{"x":3114,"y":3113,"s":"R"},
      {"x":3115,"y":3106,"s":"R"},{"x":3115,"y":3109,"s":"R"},{"x":3115,"y":3112,"s":"R"}
    ],
    "bounds": [
      {"x":2900,"y":2880,"b":"L"},{"x":3150,"y":3130,"b":"L"},
      {"x":2900,"y":2920,"b":"U"},{"x":3150,"y":3170,"b":"U"}
    ],
    "diag": [{"x":2850,"y":2850},{"x":3200,"y":3200}],
    "box": [{"x1":3035.3,"x2":3191.7,"y1":2917.2,"y2":2871.9}],
    "note": [
      {"x":3037.3,"y":2905.4,"t":"79% simulated water levles fall within"},
      {"x":3037.3,"y":2884.1,"t":"+/- 20 ft of observed water levels"}
    ]
  },
  "layer": [
    {
      "data": {"name": "alluvium"},
      "mark": {"type": "point", "filled": true, "size": 155, "strokeWidth": 1, "opacity": 1},
      "encoding": {
        "x": {"field": "x", "type": "quantitative",
          "scale": {"domain": [2850, 3200], "nice": false, "zero": false},
          "axis": {"title": "Observed Water Level (ft)", "values": [2850,2900,2950,3000,3050,3100,3150,3200], "format": "d",
            "grid": true, "gridColor": "#000000", "gridWidth": 1, "tickSize": 6, "tickColor": "#000000",
            "domainColor": "#808080", "labelFontSize": 31, "labelColor": "#000000", "labelPadding": 21, "labelFlush": false,
            "titleFontSize": 36, "titleFontWeight": "bold", "titleColor": "#000000", "titlePadding": 12}},
        "y": {"field": "y", "type": "quantitative",
          "scale": {"domain": [2850, 3200], "nice": false, "zero": false},
          "axis": {"title": "Simulated Water Level (ft)", "values": [2850,2900,2950,3000,3050,3100,3150,3200], "format": "d",
            "grid": true, "gridColor": "#000000", "gridWidth": 1, "tickSize": 6, "tickColor": "#000000",
            "domainColor": "#808080", "labelFontSize": 31, "labelColor": "#000000", "labelPadding": 20, "labelFlush": false,
            "titleFontSize": 35, "titleFontWeight": "bold", "titleColor": "#000000", "titlePadding": 14, "titleY": 362}},
        "fill": {"field": "s", "type": "nominal",
          "scale": {"domain": ["A", "R", "L", "U"], "range": ["#000080", "#FF00FF", "#00FF00", "#FF6600"]},
          "legend": {"orient": "none", "legendX": 71, "legendY": 17, "fillColor": "#FFFFFF", "strokeColor": "#404040",
            "padding": 9, "labelFontSize": 33, "labelFont": "Liberation Sans", "labelColor": "#000000", "labelLimit": 500,
            "rowPadding": 13, "symbolSize": 121, "symbolStrokeWidth": 2, "labelOffset": 14, "symbolOffset": 8, "title": null,
            "labelExpr": "datum.label == 'A' ? 'Alluvium' : datum.label == 'R' ? 'Reef' : datum.label == 'L' ? 'Lower Bound' : 'Upper Bound'"}},
        "stroke": {"field": "s", "type": "nominal",
          "scale": {"domain": ["A", "R", "L", "U"], "range": ["#000080", "#FF00FF", "#000000", "#404040"]}},
        "shape": {"field": "s", "type": "nominal",
          "scale": {"domain": ["A", "R", "L", "U"],
            "range": ["diamond", "square", "M-4.3,0H4.3M0,-0.95L1,0.8L-1,0.8Z", "M-4.3,0H4.3M0.9,0A0.9,0.9,0,1,1,-0.9,0A0.9,0.9,0,1,1,0.9,0Z"]}}
      }
    },
    {
      "data": {"name": "reef"},
      "mark": {"type": "point", "filled": true, "size": 42, "strokeWidth": 1, "opacity": 1},
      "encoding": {
        "x": {"field": "x", "type": "quantitative"},
        "y": {"field": "y", "type": "quantitative"},
        "fill": {"field": "s", "type": "nominal"},
        "stroke": {"field": "s", "type": "nominal"},
        "shape": {"field": "s", "type": "nominal"}
      }
    },
    {
      "data": {"name": "diag"},
      "mark": {"type": "line", "color": "#000000", "strokeWidth": 1},
      "encoding": {
        "x": {"field": "x", "type": "quantitative"},
        "y": {"field": "y", "type": "quantitative"}
      }
    },
    {
      "data": {"name": "bounds"},
      "mark": {"type": "line", "strokeWidth": 2.7},
      "encoding": {
        "x": {"field": "x", "type": "quantitative"},
        "y": {"field": "y", "type": "quantitative"},
        "detail": {"field": "b"},
        "stroke": {"field": "b", "type": "nominal", "legend": null}
      }
    },
    {
      "data": {"name": "bounds"},
      "transform": [{"filter": "datum.b == 'L'"}],
      "mark": {"type": "point", "shape": "triangle-up", "filled": true, "size": 190, "color": "#00FF00", "opacity": 1},
      "encoding": {
        "x": {"field": "x", "type": "quantitative"},
        "y": {"field": "y", "type": "quantitative"}
      }
    },
    {
      "data": {"name": "bounds"},
      "transform": [{"filter": "datum.b == 'U'"}],
      "mark": {"type": "point", "shape": "circle", "filled": true, "size": 120, "color": "#FF6600", "opacity": 1},
      "encoding": {
        "x": {"field": "x", "type": "quantitative"},
        "y": {"field": "y", "type": "quantitative"}
      }
    },
    {
      "data": {"name": "box"},
      "mark": {"type": "rect", "fill": "#FFFFFF", "stroke": "#000000", "strokeWidth": 1},
      "encoding": {
        "x": {"field": "x1", "type": "quantitative"},
        "x2": {"field": "x2"},
        "y": {"field": "y1", "type": "quantitative"},
        "y2": {"field": "y2"}
      }
    },
    {
      "data": {"name": "note"},
      "mark": {"type": "text", "align": "left", "baseline": "middle", "fontSize": 34, "font": "Liberation Sans", "color": "#000000"},
      "encoding": {
        "x": {"field": "x", "type": "quantitative"},
        "y": {"field": "y", "type": "quantitative"},
        "text": {"field": "t"}
      }
    }
  ]
}
